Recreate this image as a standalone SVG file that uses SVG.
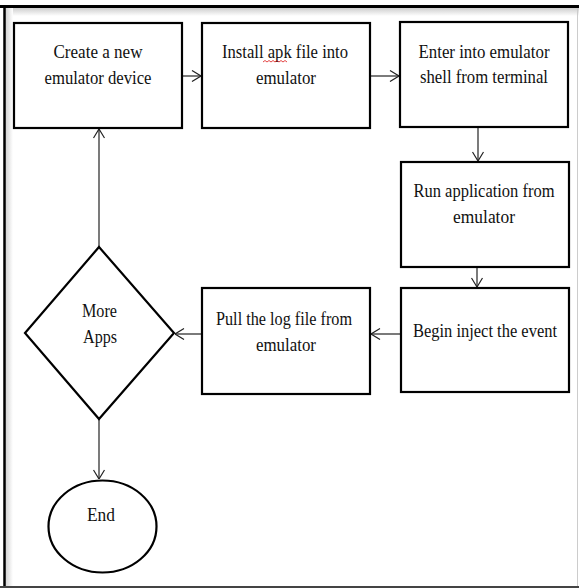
<svg xmlns="http://www.w3.org/2000/svg" width="579" height="588" viewBox="0 0 579 588">
<defs>
<linearGradient id="topShade" x1="0" y1="0" x2="0" y2="1">
<stop offset="0" stop-color="#c8c8c8"/>
<stop offset="1" stop-color="#ffffff"/>
</linearGradient>
<linearGradient id="leftShade" x1="0" y1="0" x2="1" y2="0">
<stop offset="0" stop-color="#d0d0d0"/>
<stop offset="1" stop-color="#ffffff"/>
</linearGradient>
<marker id="arr" viewBox="0 0 10 12" refX="10" refY="6" markerWidth="10" markerHeight="12" markerUnits="userSpaceOnUse" orient="auto">
<path d="M1,0.5 L10,6 L1,11.5" fill="none" stroke="#222" stroke-width="1.2"/>
</marker>
<style>
.box{fill:#fff;stroke:#000;stroke-width:2.2}
.t{font-family:"Liberation Serif","Times New Roman",serif;font-size:18px;fill:#111;text-anchor:middle}
.c{stroke:#222;stroke-width:1.2;fill:none;marker-end:url(#arr)}
</style>
</defs>
<rect width="579" height="588" fill="#fff"/>
<rect x="5" y="7" width="574" height="9" fill="url(#topShade)"/>
<rect x="5" y="7" width="8" height="579" fill="url(#leftShade)"/>
<line x1="0" y1="6.5" x2="579" y2="6.5" stroke="#000" stroke-width="3"/>
<line x1="4.5" y1="5" x2="4.5" y2="588" stroke="#000" stroke-width="2.5"/>
<line x1="577.5" y1="8" x2="577.5" y2="586" stroke="#ccc" stroke-width="1"/>
<line x1="0" y1="587" x2="579" y2="587" stroke="#444" stroke-width="2"/>

<g id="connectors">
<line class="c" x1="183" y1="76" x2="201" y2="76"/>
<line class="c" x1="371" y1="76" x2="399" y2="76"/>
<line class="c" x1="478" y1="128" x2="478" y2="161"/>
<line class="c" x1="477" y1="268" x2="477" y2="287"/>
<line class="c" x1="400" y1="334" x2="371" y2="334"/>
<line class="c" x1="201" y1="334" x2="175" y2="334"/>
<line class="c" x1="99" y1="247" x2="99" y2="129"/>
<line class="c" x1="99" y1="419" x2="99" y2="479"/>
</g>

<g id="create">
<rect class="box" x="14" y="23" width="168" height="105"/>
<text class="t" x="98" y="58" textLength="89" lengthAdjust="spacingAndGlyphs">Create a new</text>
<text class="t" x="98" y="84" textLength="107" lengthAdjust="spacingAndGlyphs">emulator device</text>
</g>
<g id="install">
<rect class="box" x="202" y="23" width="168" height="105"/>
<text class="t" x="285" y="58" textLength="126" lengthAdjust="spacingAndGlyphs">Install apk file into</text>
<path d="M263,62 l2,-1.5 l2,1.5 l2,-1.5 l2,1.5 l2,-1.5 l2,1.5 l2,-1.5 l2,1.5 l2,-1.5 l2,1.5 l2,-1.5 l2,1.5" fill="none" stroke="#e03030" stroke-width="0.9"/>
<text class="t" x="286" y="84" textLength="60" lengthAdjust="spacingAndGlyphs">emulator</text>
</g>
<g id="enter">
<rect class="box" x="400" y="22" width="168" height="105"/>
<text class="t" x="484" y="58" textLength="131" lengthAdjust="spacingAndGlyphs">Enter into emulator</text>
<text class="t" x="484" y="83" textLength="128" lengthAdjust="spacingAndGlyphs">shell from  terminal</text>
</g>
<g id="run">
<rect class="box" x="401" y="162" width="168" height="105"/>
<text class="t" x="484" y="197" textLength="141" lengthAdjust="spacingAndGlyphs">Run application from</text>
<text class="t" x="484" y="223" textLength="62" lengthAdjust="spacingAndGlyphs">emulator</text>
</g>
<g id="inject">
<rect class="box" x="401" y="288" width="168" height="104"/>
<text class="t" x="485" y="337" textLength="144" lengthAdjust="spacingAndGlyphs">Begin inject the event</text>
</g>
<g id="pull">
<rect class="box" x="202" y="288" width="168" height="106"/>
<text class="t" x="284" y="325" textLength="136" lengthAdjust="spacingAndGlyphs">Pull the log file from</text>
<text class="t" x="286" y="351" textLength="60" lengthAdjust="spacingAndGlyphs">emulator</text>
</g>
<g id="more">
<polygon class="box" points="99,247 174,333 99,419 25,333"/>
<text class="t" x="99.5" y="317" textLength="35" lengthAdjust="spacingAndGlyphs">More</text>
<text class="t" x="100" y="343" textLength="34" lengthAdjust="spacingAndGlyphs">Apps</text>
</g>
<g id="end">
<ellipse class="box" cx="102.5" cy="526.5" rx="54" ry="46"/>
<text class="t" x="101" y="521" textLength="28" lengthAdjust="spacingAndGlyphs">End</text>
</g>
</svg>
